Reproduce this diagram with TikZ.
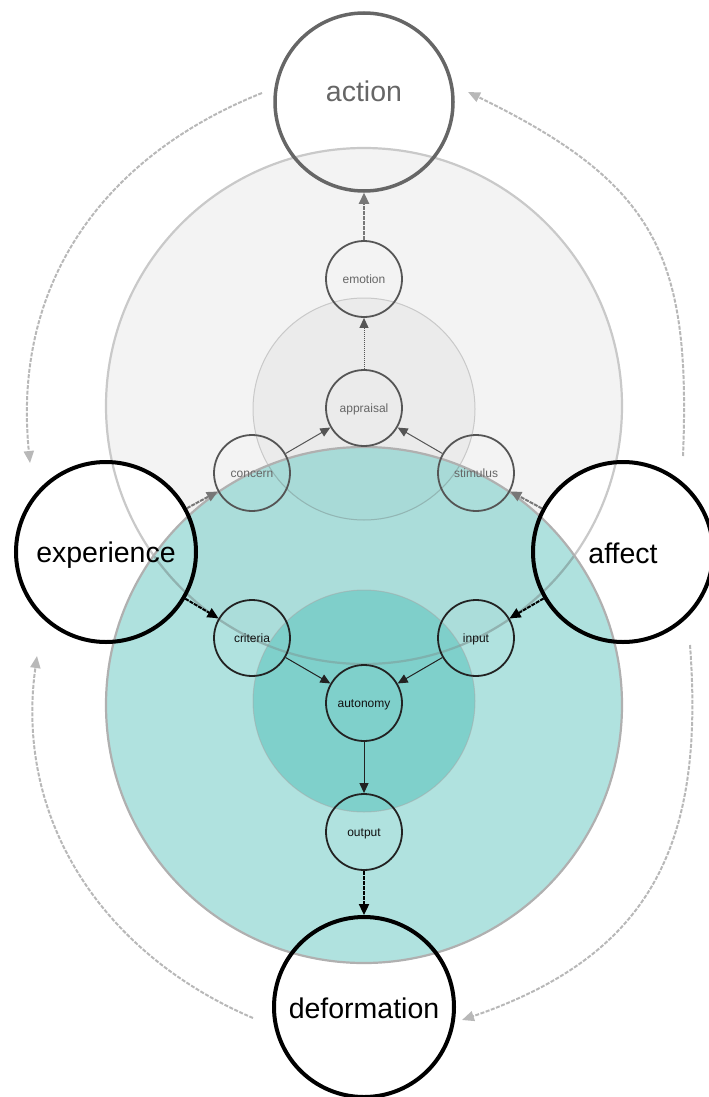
\documentclass[tikz,border=0pt]{standalone}
\usepackage{fontspec}
\setmainfont{Liberation Sans}
\usetikzlibrary{arrows.meta}

\definecolor{gfill}{HTML}{F3F3F3}
\definecolor{ginner}{HTML}{EBEBEB}
\definecolor{gstroke}{HTML}{C9C9C9}
\definecolor{tealfill}{RGB}{127,208,203}
\definecolor{tealcore}{RGB}{120,205,200}
\definecolor{tealstroke}{HTML}{B0B0B0}
\definecolor{ringgray}{HTML}{555555}
\definecolor{ringdark}{HTML}{222222}
\definecolor{labelgray}{HTML}{666666}
\definecolor{labeldark}{HTML}{111111}
\definecolor{actiongray}{HTML}{666666}
\definecolor{arrgray}{HTML}{777777}
\definecolor{arcgray}{HTML}{B8B8B8}

\newcommand\ringtext[2]{\raisebox{#1}[0pt][0pt]{#2}}

\tikzset{
  smallring/.style={circle, minimum size=76pt, inner sep=0pt, line width=1.8pt,
    font=\fontsize{12}{14}\selectfont, text height=8.5pt, text depth=0pt},
  upperring/.style={smallring, draw=ringgray, text=labelgray},
  lowerring/.style={smallring, draw=ringdark, text=labeldark},
  bigring/.style={circle, minimum size=180pt, inner sep=0pt, line width=4pt,
    draw=black, text=black, font=\fontsize{28.5}{30}\selectfont},
  thinarrow/.style={line width=1pt, -{Triangle[length=10pt,width=9pt]}},
  dotarrow/.style={line width=1pt, dash pattern=on 1.2pt off 0.8pt, -{Triangle[length=10pt,width=9pt]}},
  thickdash/.style={line width=2.3pt, dash pattern=on 4pt off 1pt, -{Triangle[length=11pt,width=10pt]}},
  outerarc/.style={line width=2pt, draw=arcgray, dash pattern=on 4pt off 1.5pt,
    -{Triangle[length=12pt,width=10pt]}},
}

\begin{document}
\begin{tikzpicture}[x=1pt,y=-1pt]
\useasboundingbox (0,0) rectangle (709,1097);

% centres of the discs and rings
\coordinate (cGray)  at (364,406);
\coordinate (cGrayI) at (364,409);
\coordinate (cTeal)  at (364,705);
\coordinate (cTealI) at (364,701);
\coordinate (pAct) at (364,102);
\coordinate (pExp) at (106,552);
\coordinate (pAff) at (623,552);
\coordinate (pDef) at (364,1007);

% grey emotion disc
\fill[gfill] (cGray) circle[radius=258pt];
\fill[ginner] (cGrayI) circle[radius=111pt];
% white faces of the side rings
\fill[white] (pExp) circle[radius=90pt];
\fill[white] (pAff) circle[radius=90pt];
\draw[gstroke, line width=2.2pt] (cGray) circle[radius=258pt];
\draw[gstroke, line width=1pt] (cGrayI) circle[radius=111pt];

% teal disc, translucent over the grey one
\fill[tealfill, fill opacity=0.62] (cTeal) circle[radius=258pt];
\fill[tealcore, fill opacity=0.85] (cTealI) circle[radius=111pt];
\draw[black!35, line width=1pt, draw opacity=0.5] (cTealI) circle[radius=111pt];
\begin{scope}
  \clip (cTeal) circle[radius=258pt];
  \draw[black!50, line width=2.2pt, draw opacity=0.35] (cGray) circle[radius=258pt];
  \draw[black!50, line width=1pt, draw opacity=0.3] (cGrayI) circle[radius=111pt];
\end{scope}
\draw[tealstroke, line width=2.2pt] (cTeal) circle[radius=258pt];

% small rings
\node[upperring] (emotion)   at (364,279) {emotion};
\node[upperring] (appraisal) at (364,408) {appraisal};
\node[upperring] (concern)   at (252,473) {concern};
\node[upperring] (stimulus)  at (476,473) {stimulus};
\node[lowerring] (criteria)  at (252,638) {criteria};
\node[lowerring] (input)     at (476,638) {input};
\node[lowerring] (autonomy)  at (364,703) {autonomy};
\node[lowerring] (output)    at (364,832) {output};

% large rings
\node[bigring, draw=actiongray, text=actiongray, line width=3.5pt, minimum size=178pt]
  (action) at (pAct) {\ringtext{0pt}{action}};
\node[bigring] (experience)  at (pExp) {\ringtext{-10pt}{experience}};
\node[bigring] (affect)      at (pAff) {\ringtext{-11pt}{affect}};
\node[bigring] (deformation) at (pDef) {\ringtext{-11pt}{deformation}};

% inner connectors
\draw[thinarrow, draw=ringgray] (concern) -- (appraisal);
\draw[thinarrow, draw=ringgray] (stimulus) -- (appraisal);
\draw[dotarrow, draw=ringgray] (appraisal) -- (emotion);
\draw[thickdash, draw=arrgray] (emotion) -- (action);
\draw[thinarrow, draw=ringdark] (criteria) -- (autonomy);
\draw[thinarrow, draw=ringdark] (input) -- (autonomy);
\draw[thinarrow, draw=ringdark] (autonomy) -- (output);
\draw[thickdash, draw=black] (output) -- (deformation);
\draw[thickdash, draw=arrgray, line width=2pt] (experience) -- (concern);
\draw[thickdash, draw=black, line width=2pt] (experience) -- (criteria);
\draw[thickdash, draw=arrgray, line width=2pt] (affect) -- (stimulus);
\draw[thickdash, draw=black, line width=2pt] (affect) -- (input);

% outer loops
\coordinate (loopTLs) at (262,93);
\coordinate (loopTLe) at (30,463);
\coordinate (loopTRs) at (683,456);
\coordinate (loopTRe) at (468,92);
\coordinate (loopBLs) at (253,1018);
\coordinate (loopBLe) at (37,656);
\coordinate (loopBRs) at (690,645);
\coordinate (loopBRe) at (462,1020);
\draw[outerarc] (loopTLs) .. controls (104,156) and (12,283) .. (loopTLe);
\draw[outerarc] (loopTRs) .. controls (691,256) and (657,184) .. (loopTRe);
\draw[outerarc] (loopBLs) .. controls (105,955) and (14,822) .. (loopBLe);
\draw[outerarc] (loopBRs) .. controls (705,845) and (651,955) .. (loopBRe);
\end{tikzpicture}
\end{document}
